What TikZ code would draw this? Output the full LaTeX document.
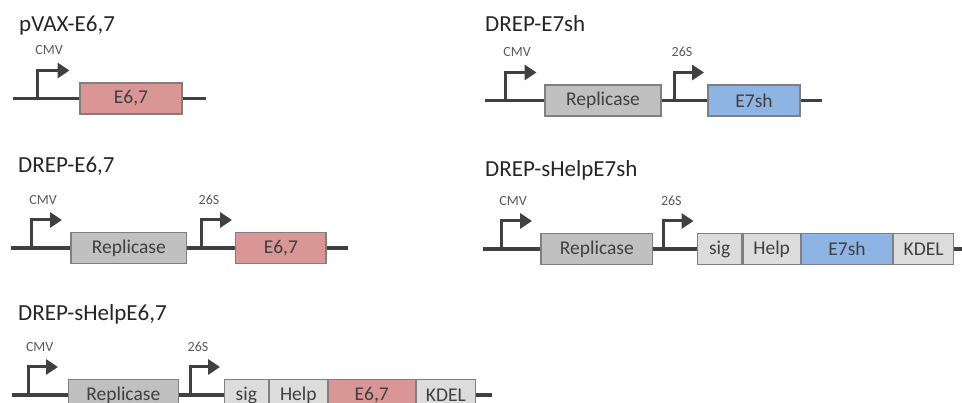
\documentclass[tikz,border=0pt]{standalone}
\usepackage{fontspec}
\setmainfont{Carlito}
\usepackage{xcolor}
\usetikzlibrary{positioning,arrows.meta}

\definecolor{dna}{HTML}{404040}
\definecolor{edge}{HTML}{7F7F7F}
\definecolor{repgray}{HTML}{C0C0C0}
\definecolor{tagg}{HTML}{DCDCDC}
\definecolor{hpvred}{HTML}{D99694}
\definecolor{hpvblue}{HTML}{8EB4E3}

\begin{document}
\begin{tikzpicture}[x=1pt,y=-1pt,
	title/.style={anchor=base west,inner sep=0pt,text=black!85,font=\fontsize{23}{23}\selectfont},
	plabel/.style={anchor=base west,inner sep=0pt,text=black!65,font=\fontsize{14}{14}\selectfont},
	part/.style={draw=edge,line width=1.2pt,inner sep=0pt,minimum height=31pt,text=dna,font=\fontsize{19.5}{19.5}\selectfont},
	backbone/.style={draw=dna,line width=3.3pt},
	prom/.style={draw=dna,line width=3pt,-{Triangle[length=12pt,width=15pt]}}]
	\clip (0,0) rectangle (962,403);

	% pVAX-E6,7
	\node[title] (t1) at (19,32) {pVAX-E6,7};
	\coordinate (l1) at (13,98.5);
	\coordinate (r1) at (206,98.5);
	\node[part,fill=hpvred,minimum width=102pt] (ea1) at (131,98.5) {E6,7};
	\draw[backbone] (l1) -- (ea1) -- (r1);
	\coordinate (cmv1) at (37.7,98.5);
	\coordinate (cmv1tip) at (69.5,70.5);
	\draw[prom] (cmv1) |- (cmv1tip);
	\node[plabel] (lc1) at (35.2,55) {CMV};

	% DREP-E6,7
	\node[title] (t2) at (18,173) {DREP-E6,7};
	\coordinate (l2) at (11,248);
	\coordinate (r2) at (348,248);
	\node[part,fill=repgray,minimum width=115.7pt] (rep2) at (128.85,248) {Replicase};
	\node[part,fill=hpvred,minimum width=90.3pt] (ea2) at (280.85,248) {E6,7};
	\draw[backbone] (l2) -- (rep2) -- (ea2) -- (r2);
	\coordinate (cmv2) at (31.7,248);
	\coordinate (cmv2tip) at (62,220);
	\draw[prom] (cmv2) |- (cmv2tip);
	\coordinate (sg2) at (201,248);
	\coordinate (sg2tip) at (232,220);
	\draw[prom] (sg2) |- (sg2tip);
	\node[plabel] (lc2) at (29.2,204.5) {CMV};
	\node[plabel] (ls2) at (198.5,204.5) {26S};

	% DREP-E7sh
	\node[title] (t3) at (485,32) {DREP-E7sh};
	\coordinate (l3) at (485,100.5);
	\coordinate (r3) at (821.7,100.5);
	\node[part,fill=repgray,minimum width=116pt] (rep3) at (603,100.5) {Replicase};
	\node[part,fill=hpvblue,minimum width=92pt] (eb3) at (754,100.5) {E7sh};
	\draw[backbone] (l3) -- (rep3) -- (eb3) -- (r3);
	\coordinate (cmv3) at (505.7,100.5);
	\coordinate (cmv3tip) at (536.5,72.5);
	\draw[prom] (cmv3) |- (cmv3tip);
	\coordinate (sg3) at (674,100.5);
	\coordinate (sg3tip) at (704,72.5);
	\draw[prom] (sg3) |- (sg3tip);
	\node[plabel] (lc3) at (503.2,57) {CMV};
	\node[plabel] (ls3) at (671.5,57) {26S};

	% DREP-sHelpE7sh
	\node[title] (t4) at (485,177) {DREP-sHelpE7sh};
	\coordinate (l4) at (483,249);
	\coordinate (r4) at (966,249);
	\node[part,fill=repgray,minimum width=111.7pt] (rep4) at (596.85,249) {Replicase};
	\node[part,fill=tagg,minimum width=44pt] (sig4) at (719.7,249) {sig};
	\node[part,fill=tagg,minimum width=57.6pt,right=0pt of sig4] (help4) {Help};
	\node[part,fill=hpvblue,minimum width=90.7pt,right=0pt of help4] (eb4) {E7sh};
	\node[part,fill=tagg,minimum width=60pt,right=0pt of eb4] (kdel4) {KDEL};
	\draw[backbone] (l4) -- (rep4) -- (sig4);
	\draw[backbone] (kdel4) -- (r4);
	\coordinate (cmv4) at (501.7,249);
	\coordinate (cmv4tip) at (532,221);
	\draw[prom] (cmv4) |- (cmv4tip);
	\coordinate (sg4) at (663.3,249);
	\coordinate (sg4tip) at (693.5,221);
	\draw[prom] (sg4) |- (sg4tip);
	\node[plabel] (lc4) at (499.2,205.5) {CMV};
	\node[plabel] (ls4) at (660.8,205.5) {26S};

	% DREP-sHelpE6,7
	\node[title] (t5) at (18,320.7) {DREP-sHelpE6,7};
	\coordinate (l5) at (11.7,395);
	\coordinate (r5) at (491.7,395);
	\node[part,fill=repgray,minimum width=110pt] (rep5) at (123.3,395) {Replicase};
	\node[part,fill=tagg,minimum width=44pt] (sig5) at (246.3,395) {sig};
	\node[part,fill=tagg,minimum width=57.7pt,right=0pt of sig5] (help5) {Help};
	\node[part,fill=hpvred,minimum width=86.7pt,right=0pt of help5] (ea5) {E6,7};
	\node[part,fill=tagg,minimum width=59pt,right=0pt of ea5] (kdel5) {KDEL};
	\draw[backbone] (l5) -- (rep5) -- (sig5);
	\draw[backbone] (kdel5) -- (r5);
	\coordinate (cmv5) at (28.3,395);
	\coordinate (cmv5tip) at (58,367);
	\draw[prom] (cmv5) |- (cmv5tip);
	\coordinate (sg5) at (190,395);
	\coordinate (sg5tip) at (220,367);
	\draw[prom] (sg5) |- (sg5tip);
	\node[plabel] (lc5) at (25.8,351.5) {CMV};
	\node[plabel] (ls5) at (187.5,351.5) {26S};
\end{tikzpicture}
\end{document}
